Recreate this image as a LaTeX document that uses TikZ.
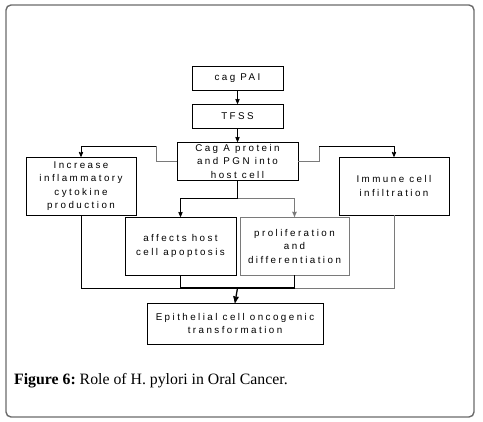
\documentclass[tikz,border=0pt]{standalone}
\usepackage{fontspec}
\usepackage{xcolor}
\usepackage{tikz}
\usetikzlibrary{positioning}
\usetikzlibrary{arrows}
\setmainfont{Liberation Serif}
\newfontfamily\boxfont[LetterSpace=25]{Liberation Sans}
\definecolor{framegray}{HTML}{6a6a6a}
\definecolor{linegray}{HTML}{7a7a7a}
\tikzset {
  % flow chart boxes
  stage/.style = {draw, thin, align=center, inner sep=0pt,
    font=\boxfont\fontsize{9.8}{13.5}\selectfont},
  % connectors
  link/.style={black, line width=0.8pt},
  faint/.style={linegray, line width=0.9pt},
  heavy/.style={black, line width=1.3pt},
}

\begin{document}
\begin{tikzpicture}[x=1pt, y=-1pt, >=stealth']
        \useasboundingbox (0,0) rectangle (483,422);
        \draw[framegray, line width=1.4pt, rounded corners=5pt] (6,5) rectangle (474,417);

        \node[stage, minimum width=91pt, minimum height=24pt] (cag) at (237.5,78) {cag PAI};
        \node[stage, minimum width=91pt, minimum height=24pt] (tfss) at (237.5,116) {TFSS};
        \node[stage, minimum width=121pt, minimum height=38pt] (caga) at (237.5,161)
          {Cag A protein\\and PGN into\\host cell};
        \node[stage, minimum width=110pt, minimum height=58pt] (infl) at (81,186)
          {Increase\\inflammatory\\cytokine\\production};
        \node[stage, minimum width=110pt, minimum height=58pt] (imm) at (394,186)
          {Immune cell\\infiltration};
        \node[stage, minimum width=111pt, minimum height=58pt] (apop) at (180.5,246)
          {affects host\\cell apoptosis};
        \node[stage, draw=linegray, minimum width=109pt, minimum height=58pt] (prol) at (294.5,246)
          {proliferation\\and\\differentiation};
        \node[stage, minimum width=176pt, minimum height=41pt] (epi) at (235,323.5)
          {Epithelial cell oncogenic\\transformation};

        \coordinate (lbend) at (156,146);
        \coordinate (rbend) at (319,146);
        \coordinate (split) at (237.5,198);
        \coordinate (join) at (237.5,288);

        \draw [->, link] (cag) -- (tfss);
        \draw [->, link] (tfss) -- (caga);
        \draw [faint] (caga.west) -| (lbend);
        \draw [->, link] (lbend) -| (infl.north);
        \draw [faint] (caga.east) -| (rbend);
        \draw [->, link] (rbend) -| (imm.north);
        \draw [link] (caga.south) -- (split);
        \draw [->, link] (split) -| (apop.north);
        \draw [->, faint] (split) -| (prol.north);

        \draw [link] (infl.south) |- (join);
        \draw [faint] (imm.south) |- (join);
        \draw [heavy] (apop.south) |- (join);
        \draw [heavy] (prol.south) |- (join);
        \draw [->, heavy] (join) -- (epi.north);

        \node[anchor=base west, inner sep=0pt, font=\fontsize{15.8}{18}\selectfont] (caption) at (14,384.5)
          {\textbf{Figure 6:}~Role of H. pylori in Oral Cancer.};
      \end{tikzpicture}
\end{document}
